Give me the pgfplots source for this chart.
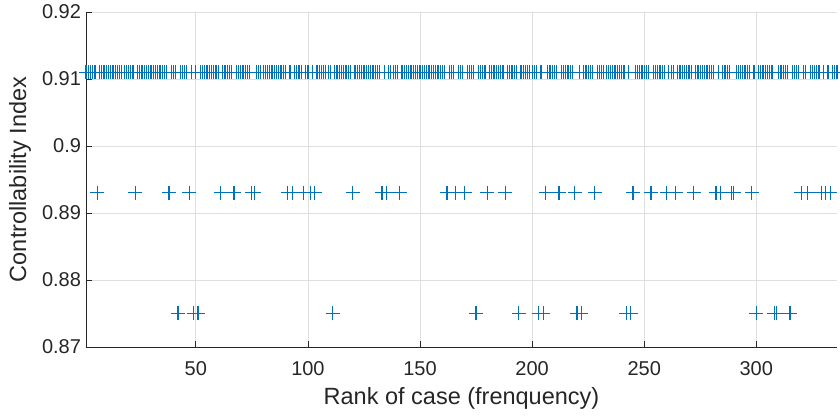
\documentclass[border=0pt]{standalone}
\usepackage{pgfplots}
\pgfplotsset{compat=1.18}
\usepackage{fontspec}
\setmainfont{Liberation Sans}
\definecolor{mblue}{RGB}{0,114,189}
\definecolor{maxis}{RGB}{38,38,38}
\definecolor{mgrid}{RGB}{223,223,223}
\begin{document}
\begin{tikzpicture}
\path[use as bounding box] (-86pt,-72pt) rectangle (754pt,347pt);
\begin{axis}[
  at={(0,0)}, anchor=south west,
  scale only axis, width=751pt, height=335pt,
  xmin=1, xmax=336, ymin=0.87, ymax=0.92,
  axis x line*=bottom, axis y line*=left,
  axis line style={-, draw=maxis, line width=0.8pt},
  grid=major, major grid style={mgrid, line width=0.8pt},
  xtick={50,100,150,200,250,300},
  ytick={0.87,0.88,0.89,0.9,0.91,0.92},
  yticklabels={0.87,0.88,0.89,0.9,0.91,0.92},
  tick align=inside, major tick length=6pt,
  tick style={maxis, line width=0.8pt},
  /pgf/number format/assume math mode=true,
  tick label style={font=\fontsize{20}{23}\selectfont, text=maxis},
  xticklabel style={yshift=-11pt},
  yticklabel style={xshift=-1.5pt},
  label style={font=\fontsize{23.5}{27}\selectfont, text=maxis},
  xlabel={Rank of case (frenquency)},
  ylabel={Controllability Index},
  xlabel style={at={(axis description cs:0.5,-0.153)}, anchor=center},
  ylabel style={at={(axis description cs:-0.0879,0.5)}, anchor=center},
]
% most cases
\addplot[only marks, mark=+, mark size=7pt, mblue, mark options={line width=1.2pt}] coordinates {
(1,.911)(2,.911)(3,.911)(4,.911)(5,.911)
(7,.911)(8,.911)(9,.911)(10,.911)(11,.911)(12,.911)(13,.911)(14,.911)(15,.911)(16,.911)(17,.911)(18,.911)(19,.911)(20,.911)(21,.911)(22,.911)
(24,.911)(25,.911)(26,.911)(27,.911)(28,.911)(29,.911)(30,.911)(31,.911)(32,.911)(33,.911)(34,.911)(35,.911)(36,.911)(37,.911)
(39,.911)(40,.911)(41,.911)(43,.911)(44,.911)(45,.911)(46,.911)(48,.911)(50,.911)
(52,.911)(53,.911)(54,.911)(55,.911)(56,.911)(57,.911)(58,.911)(59,.911)(60,.911)
(62,.911)(63,.911)(64,.911)(65,.911)(66,.911)
(68,.911)(69,.911)(70,.911)(71,.911)(72,.911)(73,.911)(74,.911)
(77,.911)(78,.911)(79,.911)(80,.911)(81,.911)(82,.911)(83,.911)(84,.911)(85,.911)(86,.911)(87,.911)(88,.911)(89,.911)(90,.911)
(92,.911)(94,.911)(95,.911)(96,.911)(97,.911)(99,.911)(100,.911)(102,.911)
(104,.911)(105,.911)(106,.911)(107,.911)(108,.911)(109,.911)(110,.911)
(112,.911)(113,.911)(114,.911)(115,.911)(116,.911)(117,.911)(118,.911)(119,.911)
(121,.911)(122,.911)(123,.911)(124,.911)(125,.911)(126,.911)(127,.911)(128,.911)(129,.911)(130,.911)(131,.911)(132,.911)
(134,.911)(136,.911)(137,.911)(138,.911)(139,.911)(140,.911)
(142,.911)(143,.911)(144,.911)(145,.911)(146,.911)(147,.911)(148,.911)(149,.911)(150,.911)(151,.911)
(152,.911)(153,.911)(154,.911)(155,.911)(156,.911)(157,.911)(158,.911)(159,.911)(160,.911)(161,.911)
(163,.911)(164,.911)(165,.911)(167,.911)(168,.911)(169,.911)
(171,.911)(172,.911)(173,.911)(174,.911)(176,.911)(177,.911)(178,.911)(179,.911)
(181,.911)(182,.911)(183,.911)(184,.911)(185,.911)(186,.911)(187,.911)
(189,.911)(190,.911)(191,.911)(192,.911)(193,.911)
(195,.911)(196,.911)(197,.911)(198,.911)(199,.911)(200,.911)(201,.911)(202,.911)(204,.911)
(207,.911)(208,.911)(209,.911)(210,.911)(211,.911)
(213,.911)(214,.911)(215,.911)(216,.911)(217,.911)(218,.911)(221,.911)
(223,.911)(224,.911)(225,.911)(226,.911)(227,.911)
(229,.911)(230,.911)(231,.911)(232,.911)(233,.911)(234,.911)(235,.911)(236,.911)(237,.911)(238,.911)(239,.911)(240,.911)(241,.911)
(243,.911)(246,.911)(247,.911)(248,.911)(249,.911)(250,.911)(251,.911)(252,.911)
(254,.911)(255,.911)(256,.911)(257,.911)(258,.911)(259,.911)
(261,.911)(262,.911)(263,.911)
(265,.911)(266,.911)(267,.911)(268,.911)(269,.911)(270,.911)(271,.911)
(273,.911)(274,.911)(275,.911)(276,.911)(277,.911)(278,.911)(279,.911)(280,.911)(281,.911)
(283,.911)(285,.911)(286,.911)(287,.911)(288,.911)
(291,.911)(292,.911)(293,.911)(294,.911)(295,.911)(296,.911)(297,.911)(299,.911)
(301,.911)(302,.911)(303,.911)(304,.911)(305,.911)(306,.911)(307,.911)
(310,.911)(311,.911)(312,.911)(313,.911)(314,.911)
(316,.911)(317,.911)(318,.911)(319,.911)(321,.911)(322,.911)
(324,.911)(325,.911)(326,.911)(327,.911)(328,.911)(330,.911)(332,.911)
(334,.911)(335,.911)(336,.911)
};
% middle level
\addplot[only marks, mark=+, mark size=7pt, mblue, mark options={line width=1.2pt}] coordinates {
(6,.893)(23,.893)(38,.893)(47,.893)(61,.893)(67,.893)(75,.893)(76,.893)(91,.893)(93,.893)
(98,.893)(101,.893)(103,.893)(120,.893)(133,.893)(135,.893)(141,.893)(162,.893)(166,.893)(170,.893)
(180,.893)(188,.893)(206,.893)(212,.893)(219,.893)(228,.893)(245,.893)(253,.893)(260,.893)(264,.893)
(272,.893)(282,.893)(284,.893)(289,.893)(290,.893)(298,.893)(320,.893)(323,.893)(329,.893)(331,.893)
(333,.893)
};
% lowest level
\addplot[only marks, mark=+, mark size=7pt, mblue, mark options={line width=1.2pt}] coordinates {
(42,.875)(49,.875)(51,.875)(111,.875)(175,.875)(194,.875)(203,.875)(205,.875)
(220,.875)(222,.875)(242,.875)(244,.875)(300,.875)(308,.875)(309,.875)(315,.875)
};
\end{axis}
\end{tikzpicture}
\end{document}
